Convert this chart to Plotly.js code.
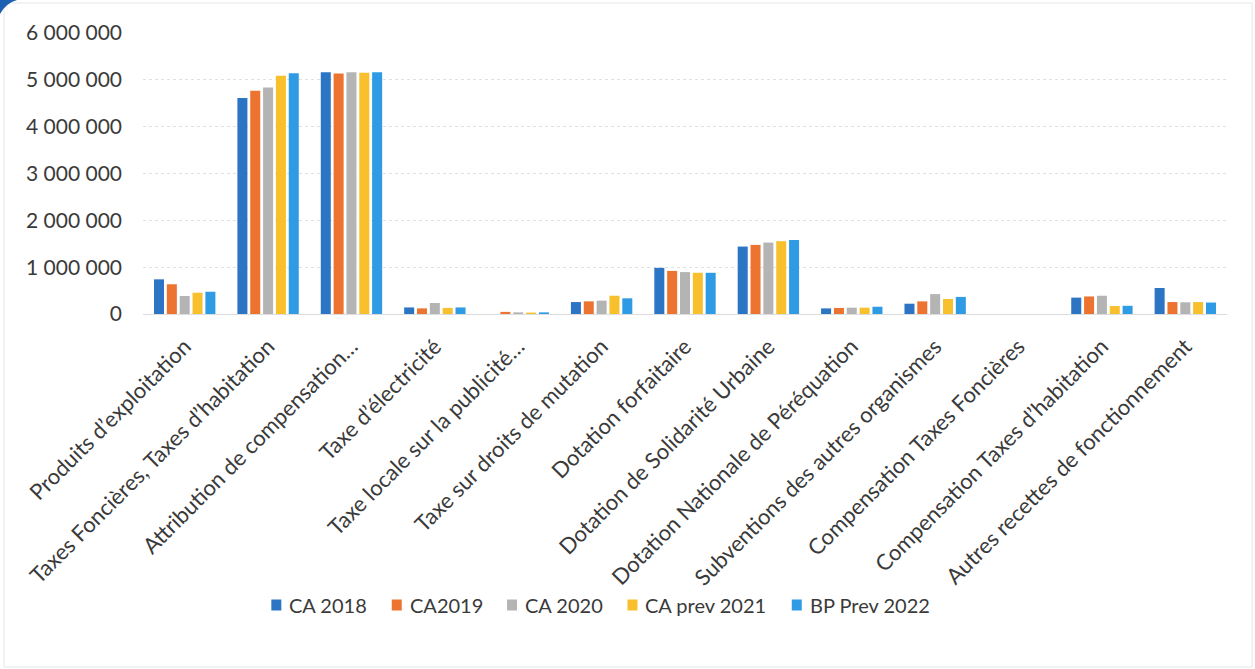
<!DOCTYPE html>
<html>
<head>
<meta charset="utf-8">
<script src="https://cdn.plot.ly/plotly-3.0.1.min.js"></script>
<style>
  html, body { margin: 0; padding: 0; background: #ffffff; }
  #chart { width: 1255px; height: 669px; }
</style>
</head>
<body>
<div id="chart"></div>
<script>
// Recettes de fonctionnement par poste (en euros)
const categories = [
  "Produits d\u2019exploitation",
  "Taxes Foncières, Taxes d\u2019habitation",
  "Attribution de compensation\u2026",
  "Taxe d\u2019électricité",
  "Taxe locale sur la publicité\u2026",
  "Taxe sur droits de mutation",
  "Dotation forfaitaire",
  "Dotation de Solidarité Urbaine",
  "Dotation Nationale de Péréquation",
  "Subventions des autres organismes",
  "Compensation Taxes Foncières",
  "Compensation Taxes d\u2019habitation",
  "Autres recettes de fonctionnement"
];

const seriesNames = ["CA 2018", "CA2019", "CA 2020", "CA prev 2021", "BP Prev 2022"];

const ca2018     = [740000, 4610000, 5160000, 140000,     0, 255000, 985000, 1440000, 120000, 220000, 0, 350000, 555000];
const ca2019     = [635000, 4765000, 5135000, 120000, 45000, 270000, 920000, 1475000, 130000, 270000, 0, 375000, 255000];
const ca2020     = [385000, 4835000, 5160000, 235000, 35000, 285000, 895000, 1525000, 135000, 425000, 0, 390000, 250000];
const caPrev2021 = [455000, 5085000, 5150000, 130000, 30000, 390000, 880000, 1555000, 135000, 320000, 0, 170000, 255000];
const bpPrev2022 = [475000, 5140000, 5160000, 140000, 35000, 335000, 880000, 1580000, 155000, 365000, 0, 175000, 245000];

const yTicks = [0, 1000000, 2000000, 3000000, 4000000, 5000000, 6000000];

const seriesValues = [ca2018, ca2019, ca2020, caPrev2021, bpPrev2022];
const seriesColors = ["#2c74c4", "#ec7430", "#b4b4b4", "#f7c02c", "#2f9be4"];

const traces = seriesValues.map((vals, i) => ({
  type: "bar",
  name: seriesNames[i],
  x: categories,
  y: vals,
  marker: { color: seriesColors[i], line: { width: 0 } },
  showlegend: false,
  hoverinfo: "x+y+name"
}));

const textColor = "#3a3a3a";
const fontFamily = "Lato, 'Open Sans', sans-serif";

// Plot area geometry (pixels)
const W = 1255, H = 669;
const M = { l: 143, r: 28, t: 33, b: 355 };
const plotW = W - M.l - M.r;
const plotH = H - M.t - M.b;
const toPaperX = px => (px - M.l) / plotW;
const toPaperY = py => (H - M.b - py) / plotH;

// Compact legend row: small square swatch followed by its label
const legendFontSize = 20;
const ctx = document.createElement("canvas").getContext("2d");
ctx.font = legendFontSize + "px Lato";
const swatchW = 10, swatchH = 11, swatchGap = 6, itemGap = 26;
const itemWidths = seriesNames.map(n => swatchW + swatchGap + ctx.measureText(n).width);
const legendTotal = itemWidths.reduce((a, b) => a + b, 0) + itemGap * (seriesNames.length - 1);
const legendCenterX = 600, legendY = 605;
let cursor = legendCenterX - legendTotal / 2;

const legendShapes = [];
const legendAnnotations = [];
seriesNames.forEach((name, i) => {
  legendShapes.push({
    type: "rect", xref: "paper", yref: "paper",
    x0: toPaperX(cursor), x1: toPaperX(cursor + swatchW),
    y0: toPaperY(legendY + swatchH / 2), y1: toPaperY(legendY - swatchH / 2),
    fillcolor: seriesColors[i], line: { width: 0 }
  });
  legendAnnotations.push({
    xref: "paper", yref: "paper",
    x: toPaperX(cursor + swatchW + swatchGap), y: toPaperY(legendY),
    xanchor: "left", yanchor: "middle",
    text: name, showarrow: false,
    font: { family: fontFamily, size: legendFontSize, color: textColor }
  });
  cursor += itemWidths[i] + itemGap;
});

const layout = {
  width: W,
  height: H,
  paper_bgcolor: "#ffffff",
  plot_bgcolor: "#ffffff",
  font: { family: fontFamily, color: textColor, size: 20 },
  separators: ", ",
  margin: { l: M.l, r: M.r, t: M.t, b: M.b, autoexpand: false },
  barmode: "group",
  bargap: 0.23,
  bargroupgap: 0.22,
  showlegend: false,
  xaxis: {
    type: "category",
    tickangle: -45,
    tickfont: { size: 22, color: textColor },
    showgrid: false,
    showline: true,
    linecolor: "#dcdcdc",
    linewidth: 1,
    ticks: "",
    ticklabelstandoff: 10,
    automargin: false,
    fixedrange: true
  },
  yaxis: {
    range: [0, 6000000],
    tickvals: yTicks,
    tickformat: ",d",
    tickfont: { size: 21, color: textColor },
    showgrid: true,
    gridcolor: "#e0e0e0",
    griddash: "dot",
    gridwidth: 1,
    zeroline: false,
    showline: false,
    ticks: "",
    ticklabelstandoff: 20,
    automargin: false,
    fixedrange: true
  },
  annotations: legendAnnotations,
  shapes: [
    // cadre léger autour du graphique
    {
      type: "rect", xref: "paper", yref: "paper",
      x0: toPaperX(4), x1: toPaperX(W - 3), y0: toPaperY(H - 2), y1: toPaperY(3),
      line: { color: "#e6e6e6", width: 1 }, fillcolor: "rgba(0,0,0,0)", layer: "below"
    },
    // coin bleu en haut à gauche
    {
      type: "path", xref: "paper", yref: "paper",
      path: "M " + toPaperX(0) + "," + toPaperY(0) +
            " L " + toPaperX(17) + "," + toPaperY(0) +
            " Q " + toPaperX(6) + "," + toPaperY(3) + " " + toPaperX(0) + "," + toPaperY(14) + " Z",
      fillcolor: "#1d5fb0", line: { width: 0 }
    },
    ...legendShapes
  ]
};

Plotly.newPlot("chart", traces, layout, { displayModeBar: false, staticPlot: true });
</script>
</body>
</html>
